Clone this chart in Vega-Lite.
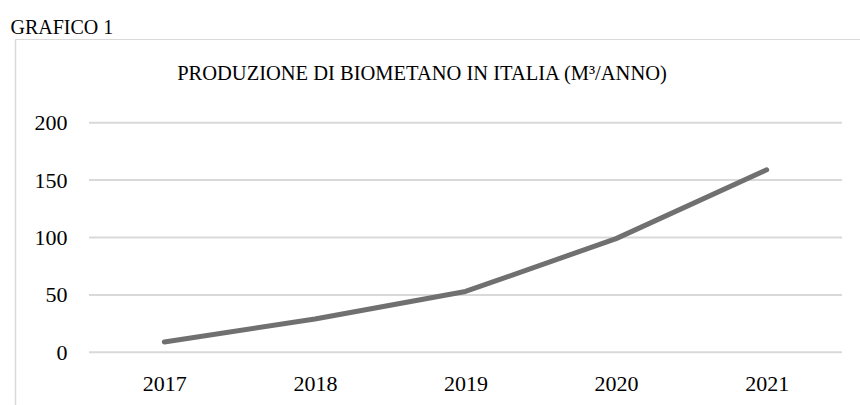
{
  "$schema": "https://vega.github.io/schema/vega-lite/v6.json",
  "width": 860,
  "height": 405,
  "padding": 0,
  "autosize": {"type": "none"},
  "background": "white",
  "config": {"view": {"stroke": null}, "font": "Liberation Serif"},
  "title": {
    "text": "PRODUZIONE DI BIOMETANO IN ITALIA (M³/ANNO)",
    "anchor": "middle",
    "frame": "group",
    "offset": -100,
    "baseline": "alphabetic",
    "dx": -8,
    "font": "Liberation Serif",
    "fontSize": 20.5,
    "fontWeight": "normal",
    "color": "#000000"
  },
  "datasets": {
    "prod": [
      {"anno": 2017, "valore": 9},
      {"anno": 2018, "valore": 29},
      {"anno": 2019, "valore": 53},
      {"anno": 2020, "valore": 99},
      {"anno": 2021, "valore": 159}
    ],
    "grid": [
      {"g": 0}, {"g": 50}, {"g": 100}, {"g": 150}, {"g": 200}
    ],
    "one": [{"k": 1}]
  },
  "layer": [
    {
      "data": {"name": "one"},
      "mark": {"type": "rule", "color": "#d9d9d9", "strokeWidth": 1.5},
      "encoding": {
        "x": {"datum": 2016.012, "type": "quantitative"},
        "y": {"datum": -45.906, "type": "quantitative"},
        "y2": {"datum": 272.47}
      }
    },
    {
      "data": {"name": "one"},
      "mark": {"type": "rule", "color": "#d9d9d9", "strokeWidth": 1.2},
      "encoding": {
        "x": {"datum": 2016.012, "type": "quantitative"},
        "x2": {"datum": 2021.6195},
        "y": {"datum": 272.47, "type": "quantitative"}
      }
    },
    {
      "data": {"name": "grid"},
      "mark": {"type": "rule", "color": "#d9d9d9", "strokeWidth": 2},
      "encoding": {
        "x": {"datum": 2016.5, "type": "quantitative"},
        "x2": {"datum": 2021.5},
        "y": {"field": "g", "type": "quantitative"}
      }
    },
    {
      "data": {"name": "prod"},
      "mark": {"type": "line", "color": "#707070", "strokeWidth": 5, "strokeCap": "round", "strokeJoin": "round"},
      "encoding": {
        "x": {
          "field": "anno",
          "type": "quantitative",
          "scale": {"domain": [2015.90903, 2021.61952], "nice": false, "zero": false},
          "axis": {
            "values": [2017, 2018, 2019, 2020, 2021],
            "format": "d",
            "grid": false,
            "domain": false,
            "ticks": false,
            "labelPadding": 0,
            "offset": -32,
            "labelFont": "Liberation Serif",
            "labelFontSize": 22,
            "labelColor": "#000000",
            "labelBaseline": "top",
            "title": null
          }
        },
        "y": {
          "field": "valore",
          "type": "quantitative",
          "scale": {"domain": [-45.906, 306.881], "nice": false, "zero": false},
          "axis": {
            "values": [0, 50, 100, 150, 200],
            "grid": false,
            "domain": false,
            "ticks": false,
            "labelPadding": 0,
            "offset": -67,
            "labelFont": "Liberation Serif",
            "labelFontSize": 22,
            "labelColor": "#000000",
            "labelBaseline": "middle",
            "title": "GRAFICO 1",
            "titleAngle": 0,
            "titleAlign": "left",
            "titleBaseline": "alphabetic",
            "titleX": -57,
            "titleY": 33,
            "titleFont": "Liberation Serif",
            "titleFontSize": 20,
            "titleFontWeight": "normal",
            "titleColor": "#000000"
          }
        }
      }
    }
  ]
}
